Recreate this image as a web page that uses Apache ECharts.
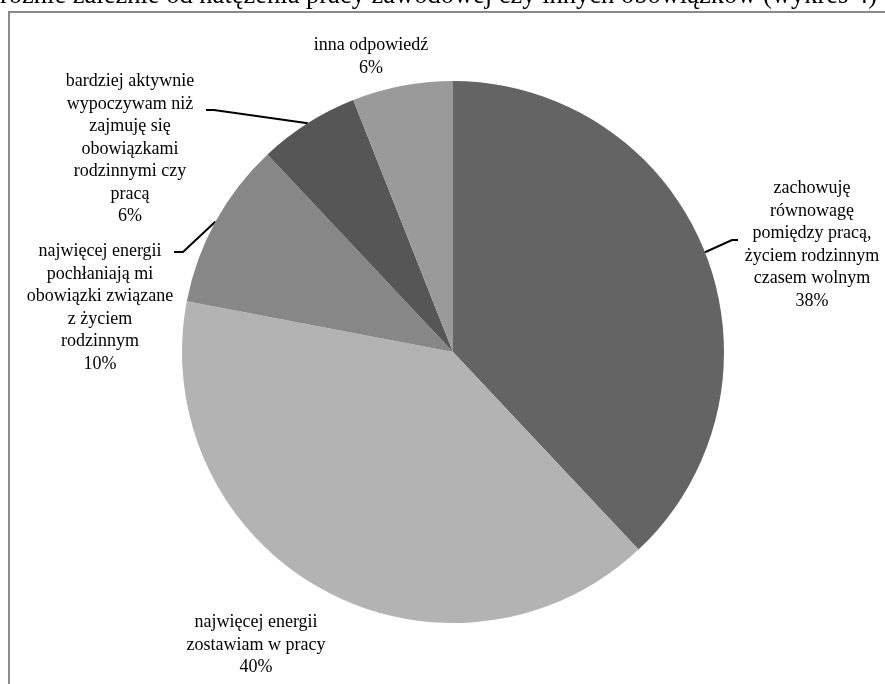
<!DOCTYPE html>
<html>
<head>
<meta charset="utf-8">
<script src="https://cdn.jsdelivr.net/npm/echarts@6/dist/echarts.min.js"></script>
<style>
html,body{margin:0;padding:0;background:#fff;}
#chart{width:885px;height:684px;}
</style>
</head>
<body>
<div id="chart"></div>
<script>
// ---- data ----
const categories = [
  'zachowuję\nrównowagę\npomiędzy pracą,\nżyciem rodzinnym\nczasem wolnym',
  'najwięcej energii\nzostawiam w pracy',
  'najwięcej energii\npochłaniają mi\nobowiązki związane\nz życiem\nrodzinnym',
  'bardziej aktywnie\nwypoczywam niż\nzajmuję się\nobowiązkami\nrodzinnymi czy\npracą',
  'inna odpowiedź'
];
const values = [38, 40, 10, 6, 6];
const titleText = 'różnie zależnie od natężenia pracy zawodowej czy innych obowiązków (wykres 4)';

// ---- styling / layout (not data) ----
const sliceColors = ['#646464', '#b3b3b3', '#878787', '#565656', '#9a9a9a'];
const labelAnchors = [[812, 245], [256, 645], [100, 308], [130, 149], [371, 57]];
const leaderPaths = [
  [[732, 240], [738, 240]],
  null,
  [[183, 252], [174, 252]],
  [[214, 110], [206, 110]],
  null
];

const chart = echarts.init(document.getElementById('chart'));
const serif = '"Liberation Serif", "Times New Roman", serif';

chart.setOption({
  animation: false,
  backgroundColor: '#fff',
  graphic: [
    {
      type: 'rect',
      shape: { x: 9, y: 12, width: 900, height: 700 },
      style: { fill: 'none', stroke: '#8a8a8a', lineWidth: 2 },
      silent: true
    },
    {
      type: 'text',
      x: 0, y: -4,
      style: {
        text: titleText,
        font: '26.5px ' + serif,
        fill: '#000',
        verticalAlign: 'middle',
        align: 'left'
      },
      silent: true
    }
  ],
  series: [{
    type: 'pie',
    center: [453, 352],
    radius: 271,
    startAngle: 90,
    clockwise: true,
    avoidLabelOverlap: false,
    data: categories.map((name, i) => ({
      name: name,
      value: values[i],
      itemStyle: { color: sliceColors[i] },
      labelLine: { show: !!leaderPaths[i] }
    })),
    itemStyle: { borderWidth: 0 },
    label: {
      show: true,
      position: 'outside',
      formatter: '{b}\n{c}%',
      fontFamily: serif,
      fontSize: 18,
      lineHeight: 22.5,
      color: '#000',
      align: 'center'
    },
    labelLine: {
      show: true,
      length: 20,
      length2: 10,
      lineStyle: { color: '#000', width: 2 }
    },
    labelLayout: function (params) {
      const i = params.dataIndex;
      const a = labelAnchors[i];
      const res = { x: a[0], y: a[1], align: 'center', verticalAlign: 'middle' };
      const l = leaderPaths[i];
      if (l && params.labelLinePoints) {
        res.labelLinePoints = [params.labelLinePoints[0], l[0], l[1]];
      }
      return res;
    },
    emphasis: { disabled: true }
  }]
});
</script>
</body>
</html>
